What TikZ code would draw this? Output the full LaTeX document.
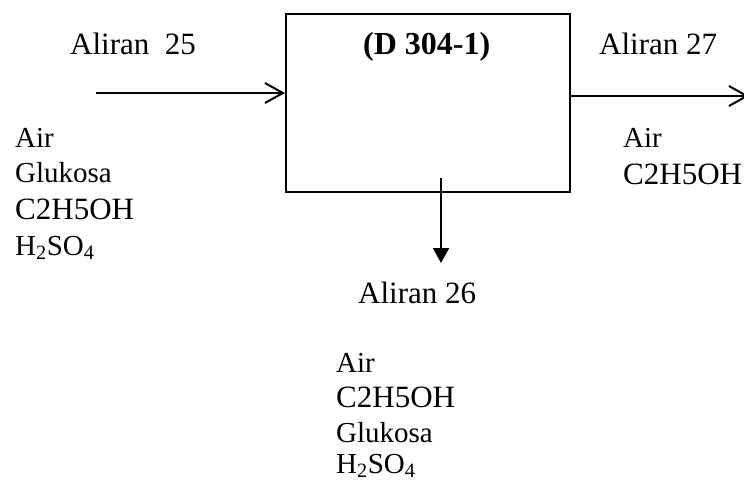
\documentclass[tikz,border=0pt]{standalone}
\usepackage{fontspec}
\setmainfont{Liberation Serif}
\usetikzlibrary{arrows.meta, positioning}

\begin{document}
\begin{tikzpicture}[
    x=1pt, y=-1pt,
    every node/.style={inner sep=0pt, anchor=base west},
    stream/.style={font=\fontsize{31}{37}\selectfont},
    small/.style={font=\fontsize{29}{35}\selectfont},
    big/.style={font=\fontsize{31}{37}\selectfont},
    unit/.style={draw, line width=2pt, minimum width=284pt, minimum height=178pt,
                 anchor=north west},
    flow/.style={line width=2pt}
]
\useasboundingbox (0,0) rectangle (744,481);

% unit
\node[unit] (d304) at (285,13) {};
\node[font=\fontsize{32}{38}\selectfont\bfseries] (title) at (363,55) {(D 304-1)};

% aliran 25
\coordinate (in25) at (96,93);
\node[stream] (a25) at (70,55) {Aliran~~25};
\node[small] (a25c1) at (15,148) {Air};
\node[small] (a25c2) at (15,183) {Glukosa};
\node[big] (a25c3) at (15,219) {C2H5OH};
\node[small] (a25c4) at (15,255) {H\textsubscript{2}SO\textsubscript{4}};
\draw[flow, -{Straight Barb[length=18pt, width=20pt, line width=2pt]}] (in25) -- (in25 -| d304.west);

% aliran 27
\coordinate (out27) at (749,96);
\node[stream] (a27) at (599,55) {Aliran 27};
\node[small] (a27c1) at (623,148) {Air};
\node[big] (a27c2) at (623,185) {C2H5OH};
\draw[flow, -{Straight Barb[length=18pt, width=20pt, line width=2pt]}] (out27 -| d304.east) -- (out27);

% aliran 26
\coordinate (s26) at (441,178);
\coordinate (e26) at (441,263);
\node[stream] (a26) at (358,303) {Aliran 26};
\node[small] (a26c1) at (336,372) {Air};
\node[big] (a26c2) at (336,407) {C2H5OH};
\node[small] (a26c3) at (336,442) {Glukosa};
\node[small] (a26c4) at (336,473) {H\textsubscript{2}SO\textsubscript{4}};
\draw[flow, -{Triangle[length=15pt, width=16pt]}] (s26) -- (e26);
\end{tikzpicture}
\end{document}
